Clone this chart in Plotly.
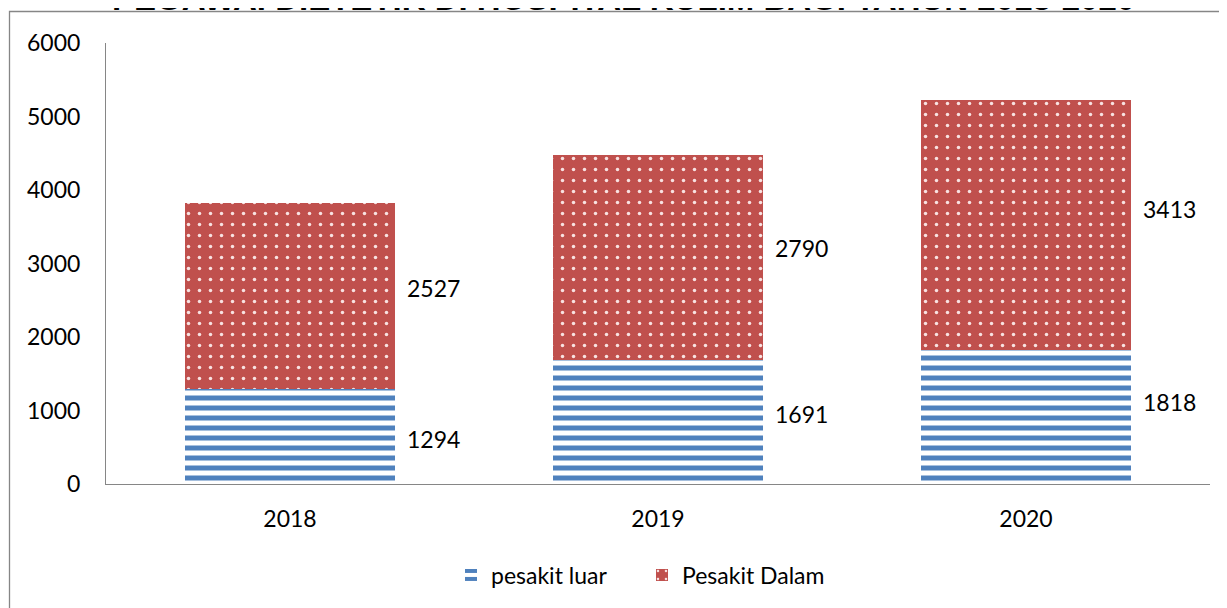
import plotly.graph_objects as go

# ---- data ----
years = ["2018", "2019", "2020"]
pesakit_luar = [1294, 1691, 1818]
pesakit_dalam = [2527, 2790, 3413]
y_ticks = [0, 1000, 2000, 3000, 4000, 5000, 6000]
title_text = "PEGAWAI DIETETIK DI HOSPITAL KULIM BAGI TAHUN 2018-2020"

BLUE = "#4F81BD"
RED = "#C0504D"
AXIS = "#868686"
FONT = "Lato"
FS = 23

W, H = 1227, 608
OFF = 8  # page body margin of the browser
# plot area in screen pixels: x 106..1210, y 43..484
L, T = 106 - OFF, 43 - OFF
R = W - (1210 - OFF)
B = H - (484 - OFF)
pw, ph = W - L - R, H - T - B

def px_x(p):
    return (p - OFF - L) / pw

def px_y(p):
    return 1 + (T - (p - OFF)) / ph

xs = list(range(len(years)))
bar_w = 0.57

fig = go.Figure()
fig.add_trace(go.Bar(
    x=xs, y=pesakit_luar, name="pesakit luar", width=bar_w,
    marker=dict(color=BLUE, line=dict(width=0),
                pattern=dict(shape="-", fgcolor=BLUE, bgcolor="white", fgopacity=1,
                             size=10, solidity=0.5, fillmode="overlay")),
))
fig.add_trace(go.Bar(
    x=xs, y=pesakit_dalam, name="Pesakit Dalam", width=bar_w,
    marker=dict(color=RED, line=dict(width=0),
                pattern=dict(shape=".", fgcolor="#F8E2E2", bgcolor=RED, fgopacity=1,
                             size=11, solidity=0.08, fillmode="overlay")),
))

# data labels (to the right of each segment)
luar_shift = [-3, 8, 15]
dalam_shift = [8, 9, 16]
for i in xs:
    fig.add_annotation(x=i + bar_w / 2, y=pesakit_luar[i] / 2, text=str(pesakit_luar[i]),
                       xanchor="left", yanchor="middle", xshift=10, yshift=luar_shift[i],
                       showarrow=False, font=dict(family=FONT, size=FS, color="black"))
    fig.add_annotation(x=i + bar_w / 2, y=pesakit_luar[i] + pesakit_dalam[i] / 2,
                       text=str(pesakit_dalam[i]),
                       xanchor="left", yanchor="middle", xshift=10, yshift=dalam_shift[i],
                       showarrow=False, font=dict(family=FONT, size=FS, color="black"))

# title (cut off at the top of the page, as in the original)
fig.add_annotation(xref="paper", yref="paper", x=px_x(623), y=px_y(-2),
                   text="<b>" + title_text + "</b>", showarrow=False,
                   xanchor="center", yanchor="middle",
                   font=dict(family="Liberation Sans", size=33, color="black"))

# outer chart border (extends beyond the page on right and bottom)
fig.add_shape(type="rect", xref="paper", yref="paper",
              x0=px_x(9.5), x1=px_x(1260), y0=px_y(640), y1=px_y(11.5),
              line=dict(color=AXIS, width=1.3), fillcolor="rgba(0,0,0,0)", layer="below")

fig.update_layout(
    width=W, height=H,
    margin=dict(l=L, r=R, t=T, b=B, autoexpand=False),
    barmode="stack",
    paper_bgcolor="white", plot_bgcolor="white",
    font=dict(family=FONT, size=FS, color="black"),
    showlegend=True,
    legend=dict(orientation="h", x=px_x(451), xanchor="left", y=px_y(575), yanchor="middle",
                font=dict(family=FONT, size=FS), itemwidth=30, traceorder="normal",
                entrywidth=146, entrywidthmode="pixels",
                bgcolor="rgba(0,0,0,0)"),
    xaxis=dict(range=[-0.5, 2.5], tickvals=xs, ticktext=years, showgrid=False,
               showline=True, linecolor=AXIS, linewidth=1, ticks="", zeroline=False,
               automargin=False, ticklabelstandoff=14, tickfont=dict(family=FONT, size=FS)),
    yaxis=dict(range=[0, 6000], tickvals=y_ticks, showgrid=False, showline=True,
               linecolor=AXIS, linewidth=1, ticks="", zeroline=False,
               automargin=False, ticklabelstandoff=20, tickfont=dict(family=FONT, size=FS)),
)

fig.write_html("out.html")
